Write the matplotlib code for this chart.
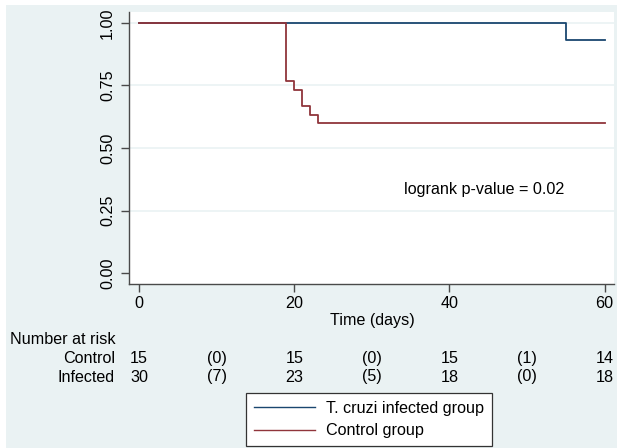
import matplotlib.pyplot as plt
from matplotlib.patches import Rectangle
from matplotlib.transforms import blended_transform_factory

plt.rcParams['font.family'] = ['Liberation Sans', 'DejaVu Sans']

# Kaplan-Meier step data
infected_time = [0, 55, 60]
infected_surv = [1.0, 0.933, 0.933]
control_time = [0, 19, 20, 21, 22, 23, 60]
control_surv = [1.0, 0.767, 0.733, 0.667, 0.633, 0.600, 0.600]

# number at risk table
risk_x = [0, 10, 20, 30, 40, 50, 60]
risk_control = ['15', '(0)', '15', '(0)', '15', '(1)', '14']
risk_infected = ['30', '(7)', '23', '(5)', '18', '(0)', '18']

x_ticks = [0, 20, 40, 60]
y_ticks = [0.0, 0.25, 0.5, 0.75, 1.0]

bg = '#EAF2F3'
navy = '#1A476F'
maroon = '#90353B'
axcol = '#4a4a4a'
fs = 11.6

W, H = 618, 448
fig = plt.figure(figsize=(W / 100, H / 100), dpi=100, facecolor='white')
fig.patches.append(Rectangle((6 / W, 0), 611 / W, 443 / H, transform=fig.transFigure,
                             facecolor=bg, edgecolor='none', zorder=-10))

ax = fig.add_axes([129 / W, 1 - 284 / H, (614 - 129) / W, (284 - 12) / H])
ax.set_facecolor('white')

for y in y_ticks[1:]:
    ax.axhline(y, color=bg, lw=1.2, zorder=0)

l1, = ax.step(infected_time, infected_surv, where='post', color=navy, lw=1.3)
l2, = ax.step(control_time, control_surv, where='post', color=maroon, lw=1.3)

ax.set_xlim(-1.29, 61.2)
ax.set_ylim(-0.043, 1.043)
ax.set_xticks(x_ticks)
ax.set_yticks(y_ticks)
ax.set_yticklabels(['%.2f' % v for v in y_ticks], rotation=90, va='center')
ax.tick_params(direction='out', length=5.8, width=1.0, color=axcol, labelsize=fs, labelcolor='black')
ax.tick_params(axis='y', pad=4.3)
ax.tick_params(axis='x', pad=3)
for s in ['top', 'right']:
    ax.spines[s].set_visible(False)
for s in ['left', 'bottom']:
    ax.spines[s].set_color(axcol)
    ax.spines[s].set_linewidth(1.0)

ax.text(34.1, 0.336, 'logrank p-value = 0.02', fontsize=fs, va='center', ha='left')

fig.text(372 / W, 1 - 320 / H, 'Time (days)', fontsize=fs, ha='center', va='center')

# risk table
tr = blended_transform_factory(ax.transData, fig.transFigure)
fig.text(10 / W, 1 - 339 / H, 'Number at risk', fontsize=fs, ha='left', va='center')
fig.text(115 / W, 1 - 358 / H, 'Control', fontsize=fs, ha='right', va='center')
fig.text(115 / W, 1 - 377 / H, 'Infected', fontsize=fs, ha='right', va='center')
for x, c, i in zip(risk_x, risk_control, risk_infected):
    ax.text(x, 1 - 358 / H, c, transform=tr, fontsize=fs, ha='center', va='center', clip_on=False)
    ax.text(x, 1 - 377 / H, i, transform=tr, fontsize=fs, ha='center', va='center', clip_on=False)

leg = fig.legend([l1, l2], ['T. cruzi infected group', 'Control group'],
                 loc='upper left', bbox_to_anchor=(245.7 / W, 1 - 393 / H),
                 borderaxespad=0, fontsize=fs, frameon=True, fancybox=False,
                 handlelength=3.8, handletextpad=0.7, labelspacing=0.45, borderpad=0.5)
leg.get_frame().set_edgecolor('#333333')
leg.get_frame().set_linewidth(0.9)
leg.get_frame().set_facecolor('white')
leg.get_frame().set_alpha(1)
for h in leg.get_lines():
    h.set_linewidth(1.0)

fig.savefig('out.png', dpi=100, facecolor=fig.get_facecolor())
